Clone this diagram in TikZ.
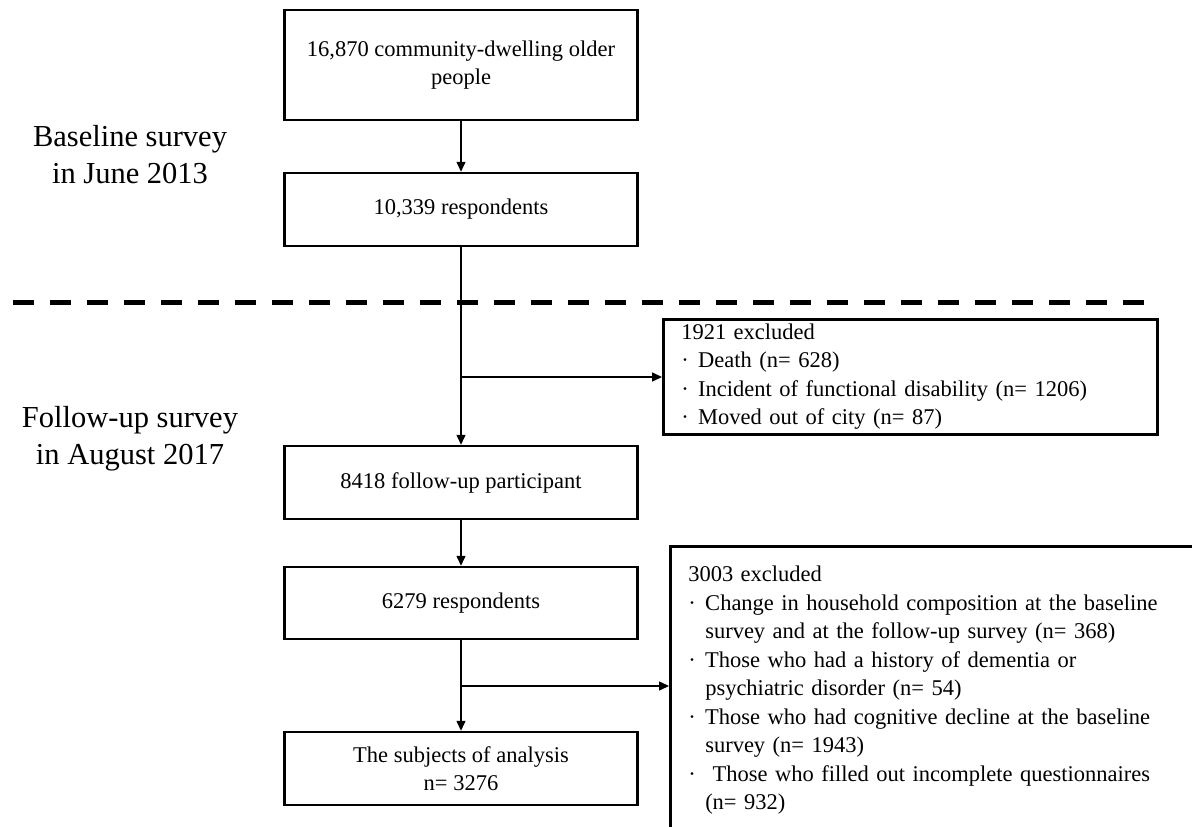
\documentclass[tikz,border=0pt]{standalone}
\usepackage{fontspec}
\setmainfont{Liberation Serif}
\usetikzlibrary{arrows.meta}
\newcommand{\bul}{\makebox[17pt][l]{·}}
\newcommand{\ind}{\hspace*{17pt}}

\begin{document}
\begin{tikzpicture}[x=1pt,y=-1pt,
        box/.style={draw,line width=2.5pt,minimum width=353pt,align=center,inner sep=0pt,font=\fontsize{22.5}{28.5}\selectfont},
        exbox/.style={draw,line width=2.5pt,anchor=north west,align=left,inner xsep=18pt,font=\fontsize{22.5}{28.5}\selectfont},
        period/.style={align=center,font=\fontsize{30.5}{37}\selectfont},
        >={Triangle[length=10pt,width=9pt]},
        every edge/.style={draw,line width=1.5pt}]
            \useasboundingbox (0,0) rectangle (1192,827);
            \clip (0,0) rectangle (1192,827);

            \node [period] (base) at (130,155) {Baseline survey\\in June 2013};
            \node [period] (fup) at (130,439) {Follow-up survey\\in August 2017};

            \coordinate (dl) at (13,302);
            \coordinate (dr) at (1156,302);
            \draw [line width=5pt,dash pattern=on 21pt off 16pt] (dl) -- (dr);

            \node [box,minimum height=110pt] (pop) at (461,65) {16,870 community-dwelling older\\people};
            \node [box,minimum height=73pt] (resp) at (461,209.5) {10,339 respondents};
            \node [box,minimum height=73pt] (fol) at (461,482.5) {8418 follow-up participant};
            \node [box,minimum height=72pt] (resp2) at (461,603) {6279 respondents};
            \node [box,minimum height=73pt] (subj) at (461,768.5) {The subjects of analysis\\n= 3276};

            \node [exbox,minimum height=115pt,text width=458pt] (ex1) at (662,318) {1921 excluded\\\bul Death (n= 628)\\\bul Incident of functional disability (n= 1206)\\\bul Moved out of city (n= 87)};
            \node [exbox,inner ysep=20pt,text width=560pt] (ex2) at (669,545) {3003 excluded\\\bul Change in household composition at the baseline\\\ind survey and at the follow-up survey (n= 368)\\\bul Those who had a history of dementia or\\\ind psychiatric disorder (n= 54)\\\bul Those who had cognitive decline at the baseline\\\ind survey (n= 1943)\\\bul\ Those who filled out incomplete questionnaires\\\ind (n= 932)};

            \coordinate (j1) at (461,377);
            \coordinate (j2) at (461,686);

            \path [->] (pop) edge (resp);
            \path [->] (resp) edge (fol);
            \path [->] (j1) edge (j1 -| ex1.west);
            \path [->] (fol) edge (resp2);
            \path [->] (resp2) edge (subj);
            \path [->] (j2) edge (j2 -| ex2.west);
        \end{tikzpicture}
\end{document}
